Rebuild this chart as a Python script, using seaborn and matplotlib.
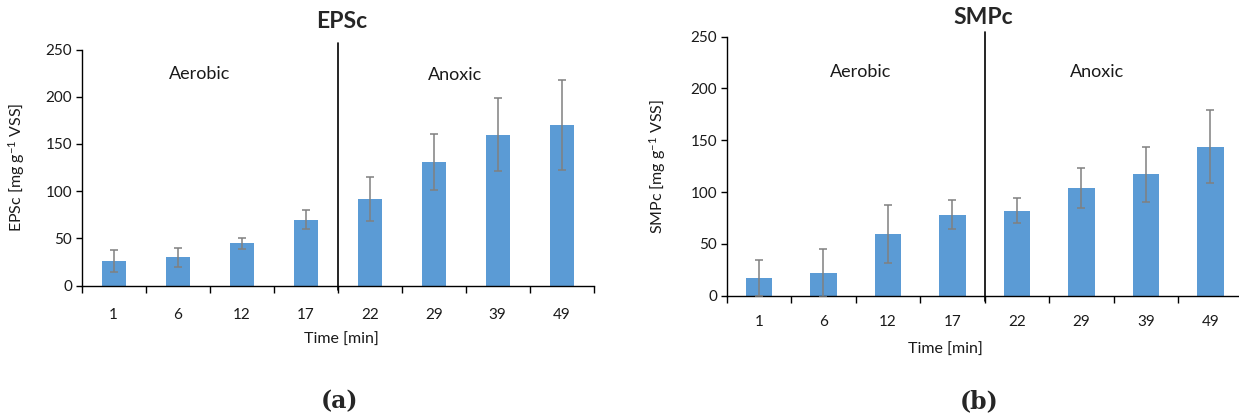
import matplotlib
matplotlib.use("Agg")
import matplotlib.pyplot as plt
import seaborn as sns
import numpy as np
import pandas as pd

# ---- data ----
times = ["1", "6", "12", "17", "22", "29", "39", "49"]
n_aerobic = 4
eps_mean = [26, 30, 45, 70, 92, 131, 160, 170]
eps_err = [12, 10, 6, 10, 23, 30, 39, 48]
smp_mean = [17, 22, 60, 78, 82, 104, 117, 144]
smp_err = [17, 23, 28, 14, 12, 19, 26.5, 35]
y_ticks = [0, 50, 100, 150, 200, 250]
phase_labels = ["Aerobic", "Anoxic"]

sns.set_style("ticks")
plt.rcParams["font.family"] = ["Lato", "DejaVu Sans"]
plt.rcParams["mathtext.default"] = "regular"

W, H = 1239, 416
fig = plt.figure(figsize=(W / 100, H / 100), dpi=100)

BAR = "#5B9BD5"
ERR = "#808080"
TXT = "#1a1a1a"


def px_axes(x0, x1, ytop, ybot):
    return fig.add_axes([x0 / W, 1 - ybot / H, (x1 - x0) / W, (ybot - ytop) / H])


def draw(ax, means, errs, ylabel, bar_w, ylab_x, xlab_x, xlab_y, tick_pad,
         phase_pos, divider_top):
    df = pd.DataFrame({"time": times, "val": means})
    sns.barplot(data=df, x="time", y="val", color=BAR, width=bar_w, ax=ax,
                saturation=1, errorbar=None, edgecolor="none")
    xs = np.arange(len(times))
    ax.errorbar(xs, means, yerr=errs, fmt="none", ecolor=ERR, elinewidth=1.1,
                capsize=2.8, capthick=1.1, zorder=3)
    ax.set_xlim(-0.5, len(times) - 0.5)
    ax.set_ylim(0, 250)
    ax.set_yticks(y_ticks)
    ax.set_yticklabels([str(v) for v in y_ticks], fontsize=11, color=TXT)
    # category boundaries as major ticks, labels on minor ticks
    ax.set_xticks(np.arange(-0.5, len(times), 1.0))
    ax.set_xticklabels([])
    ax.set_xticks(xs, minor=True)
    ax.set_xticklabels(times, minor=True, fontsize=11, color=TXT)
    ax.tick_params(axis="x", which="major", length=5, width=1, color="black", direction="out")
    ax.tick_params(axis="x", which="minor", length=0, pad=tick_pad)
    ax.tick_params(axis="y", length=4, width=1, color="black", pad=3)
    for s in ["top", "right"]:
        ax.spines[s].set_visible(False)
    for s in ["left", "bottom"]:
        ax.spines[s].set_color("black")
        ax.spines[s].set_linewidth(1.0)
    ax.set_ylabel(ylabel, fontsize=11.5, color=TXT)
    ax.yaxis.set_label_coords(ylab_x, 0.5)
    ax.set_xlabel("Time [min]", fontsize=11.5, color=TXT)
    ax.xaxis.set_label_coords(xlab_x, xlab_y)
    ax.xaxis.label.set_va("center")
    # phase divider
    bx = n_aerobic - 0.5
    ax.plot([bx, bx], [-5, divider_top], color="black", lw=1.2, clip_on=False, zorder=4)
    for (px, py), lab in zip(phase_pos, phase_labels):
        ax.text(px, py, lab, ha="center", va="center", fontsize=13, color=TXT)


axL = px_axes(81.7, 593.7, 49.5, 285.7)
draw(axL, eps_mean, eps_err, "EPSc [mg g$^{-1}$ VSS]", 0.38,
     -0.107, 0.507, -0.229, 16, [(1.35, 224), (5.33, 223)], 257)

axR = px_axes(726.7, 726.7 + 516, 36.7, 295.7)
draw(axR, smp_mean, smp_err, "SMPc [mg g$^{-1}$ VSS]", 0.41,
     -0.113, 0.423, -0.208, 14, [(1.58, 216), (5.24, 216)], 254.5)

fig.text(341.7 / W, 1 - 22 / H, "EPSc", ha="center", va="center",
         fontsize=16.5, fontweight="bold")
fig.text(983 / W, 1 - 18 / H, "SMPc", ha="center", va="center",
         fontsize=16.5, fontweight="bold")
fig.text(339 / W, 1 - 401 / H, "(a)", ha="center", va="center",
         fontsize=17, fontweight="bold", family=["DejaVu Serif"])
fig.text(979 / W, 1 - 401 / H, "(b)", ha="center", va="center",
         fontsize=17, fontweight="bold", family=["DejaVu Serif"])

fig.savefig("out.png", dpi=100)
